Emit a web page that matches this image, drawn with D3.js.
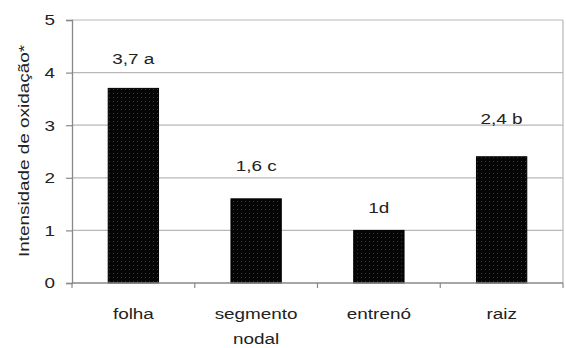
<!DOCTYPE html>
<html><head><meta charset="utf-8">
<script src="https://cdn.jsdelivr.net/npm/d3@7"></script>
<style>body{margin:0;background:#fff}text{font-family:"Liberation Sans",Arial,sans-serif;fill:#222}</style>
</head><body><svg id="c" width="566" height="348"></svg>
<script>
const categories = [["folha"], ["segmento", "nodal"], ["entrenó"], ["raiz"]];
const values = [3.7, 1.6, 1.0, 2.4];
const barLabels = ["3,7 a", "1,6 c", "1d", "2,4 b"];
const labelOffsets = [30, 34, 23, 39];
const yTicks = [0, 1, 2, 3, 4, 5];
const yTitle = "Intensidade de oxidação*";

const SX = 1.22, FS = 15.5;
const svg = d3.select("#c");
const m = {l: 72, r: 3, t: 20, b: 65};
const W = 566, H = 348;
const x = d3.scaleBand().domain(d3.range(values.length)).range([m.l, W - m.r]).paddingInner(0.59).paddingOuter(0.295);
const xb = d3.scaleBand().domain(d3.range(values.length)).range([m.l, W - m.r]);
const y = d3.scaleLinear().domain([0, 5]).range([H - m.b, m.t]);

function stext(parent, px, py, str, rot) {
  const g = parent.append("g").attr("transform", `translate(${px},${py})` + (rot ? ` rotate(${rot})` : ""));
  return g.append("text").attr("transform", `scale(${SX},1)`).attr("text-anchor", "middle")
    .attr("font-size", FS).text(str);
}

const defs = svg.append("defs");
const pat = defs.append("pattern").attr("id", "dots").attr("width", 4).attr("height", 4).attr("patternUnits", "userSpaceOnUse");
pat.append("rect").attr("width", 4).attr("height", 4).attr("fill", "#050505");
pat.append("rect").attr("x", 1).attr("y", 1).attr("width", 1).attr("height", 1).attr("fill", "#3a3a3a");

// gridlines
svg.append("g").selectAll("line").data(yTicks.slice(1)).join("line")
  .attr("x1", m.l).attr("x2", W - m.r).attr("y1", d => y(d)).attr("y2", d => y(d))
  .attr("stroke", "#b8b8b8").attr("stroke-width", 1.2);
svg.append("line").attr("x1", W - m.r).attr("x2", W - m.r).attr("y1", m.t).attr("y2", y(0)).attr("stroke", "#b8b8b8").attr("stroke-width", 1.2);

// bars
svg.append("g").selectAll("rect").data(values).join("rect")
  .attr("x", (d, i) => x(i)).attr("width", x.bandwidth())
  .attr("y", d => y(d)).attr("height", d => y(0) - y(d))
  .attr("fill", "url(#dots)").attr("stroke", "#000").attr("stroke-width", 1);

// y axis
const ya = svg.append("g").attr("transform", `translate(${m.l},0)`)
  .call(d3.axisLeft(y).tickValues(yTicks).tickSize(6).tickFormat(d3.format("d")));
ya.select(".domain").attr("stroke", "#888").attr("stroke-width", 1.3);
ya.selectAll(".tick line").attr("stroke", "#888").attr("stroke-width", 1.2);
ya.selectAll(".tick text").attr("font-size", FS).attr("x", -17 / SX).attr("transform", `scale(${SX},1)`)
  .style("font-family", "Liberation Sans, Arial, sans-serif").attr("fill", "#222");

// x axis
svg.append("line").attr("x1", m.l).attr("x2", W - m.r).attr("y1", y(0)).attr("y2", y(0)).attr("stroke", "#888").attr("stroke-width", 1.3);
svg.append("g").selectAll("line").data(d3.range(values.length + 1)).join("line")
  .attr("x1", i => m.l + i * xb.step()).attr("x2", i => m.l + i * xb.step())
  .attr("y1", y(0)).attr("y2", y(0) + 5).attr("stroke", "#888").attr("stroke-width", 1.2);

// category labels
const cg = svg.append("g");
categories.forEach((lines, i) => {
  lines.forEach((t, j) => stext(cg, xb(i) + xb.bandwidth() / 2, y(0) + 36 + j * 25, t));
});

// bar labels
const lg = svg.append("g");
values.forEach((v, i) => stext(lg, x(i) + x.bandwidth() / 2, y(v) - labelOffsets[i] + 6, barLabels[i]));

// y title
stext(svg, 29, 151, yTitle, -90);
</script></body></html>
